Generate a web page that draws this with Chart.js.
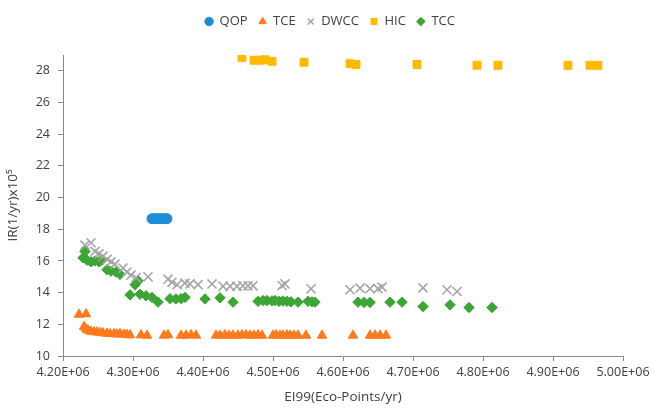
<!DOCTYPE html>
<html>
<head>
<meta charset="utf-8">
<script src="https://cdn.jsdelivr.net/npm/chart.js@4"></script>
<style>
  html, body { margin: 0; padding: 0; background: #fff; }
  #wrap { width: 654px; height: 409px; }
</style>
</head>
<body>
<div id="wrap"><canvas id="c" width="654" height="409"></canvas></div>
<script>
// EI99 (eco-points/yr) vs individual risk (1/yr x 1e5) for each design
const qopX = [4.3271e6, 4.3314e6, 4.3357e6, 4.3400e6, 4.3443e6, 4.3486e6];
const qopY = [18.67, 18.67, 18.67, 18.67, 18.67, 18.67];

const tceX = [4.2229e6, 4.2329e6,
  4.2300e6, 4.2329e6, 4.2357e6, 4.2400e6, 4.2443e6, 4.2486e6, 4.2529e6, 4.2571e6,
  4.2629e6, 4.2671e6, 4.2729e6, 4.2771e6, 4.2814e6, 4.2871e6, 4.2914e6, 4.2957e6,
  4.3114e6, 4.3200e6, 4.3443e6, 4.3500e6, 4.3686e6, 4.3757e6, 4.3829e6, 4.3900e6,
  4.4186e6, 4.4243e6, 4.4314e6, 4.4371e6, 4.4429e6, 4.4500e6, 4.4557e6, 4.4614e6,
  4.4671e6, 4.4729e6, 4.4786e6, 4.4843e6, 4.5000e6, 4.5043e6, 4.5100e6, 4.5143e6,
  4.5200e6, 4.5243e6, 4.5300e6, 4.5357e6, 4.5471e6, 4.5700e6, 4.6143e6, 4.6386e6,
  4.6457e6, 4.6529e6, 4.6614e6];
const tceY = [12.62, 12.65,
  11.85, 11.70, 11.62, 11.55, 11.52, 11.50, 11.47, 11.45,
  11.42, 11.40, 11.40, 11.37, 11.40, 11.36, 11.35, 11.32,
  11.32, 11.30, 11.30, 11.33, 11.30, 11.30, 11.33, 11.30,
  11.30, 11.30, 11.33, 11.30, 11.30, 11.30, 11.32, 11.33,
  11.30, 11.30, 11.33, 11.30, 11.30, 11.33, 11.30, 11.30,
  11.33, 11.30, 11.30, 11.30, 11.30, 11.30, 11.30, 11.30,
  11.30, 11.30, 11.30];

const dwccX = [4.2314e6, 4.2400e6, 4.2457e6, 4.2514e6, 4.2571e6, 4.2629e6, 4.2686e6,
  4.2743e6, 4.2857e6, 4.2914e6, 4.2971e6, 4.3043e6, 4.3214e6, 4.3500e6, 4.3557e6,
  4.3629e6, 4.3743e6, 4.3814e6, 4.3929e6, 4.4129e6, 4.4286e6, 4.4386e6, 4.4486e6,
  4.4571e6, 4.4643e6, 4.4714e6, 4.5129e6, 4.5171e6, 4.5543e6, 4.6100e6, 4.6243e6,
  4.6386e6, 4.6500e6, 4.6557e6, 4.7143e6, 4.7486e6, 4.7629e6];
const dwccY = [17.00, 17.15, 16.60, 16.45, 16.30, 16.10, 15.95,
  15.80, 15.55, 15.30, 15.10, 14.95, 15.00, 14.85, 14.65,
  14.50, 14.60, 14.55, 14.50, 14.55, 14.40, 14.40, 14.40,
  14.43, 14.43, 14.43, 14.45, 14.55, 14.24, 14.18, 14.28,
  14.25, 14.25, 14.35, 14.30, 14.18, 14.07];

const hicX = [4.4557e6, 4.4729e6, 4.4814e6, 4.4886e6, 4.4986e6, 4.5443e6, 4.6100e6,
  4.6186e6, 4.7057e6, 4.7914e6, 4.8214e6, 4.9214e6, 4.9529e6, 4.9643e6];
const hicY = [28.85, 28.67, 28.67, 28.70, 28.60, 28.54, 28.45,
  28.40, 28.40, 28.35, 28.35, 28.35, 28.35, 28.35];

const tccX = [4.2314e6, 4.2286e6, 4.2343e6, 4.2400e6, 4.2457e6, 4.2514e6, 4.2557e6,
  4.2629e6, 4.2686e6, 4.2757e6, 4.2814e6, 4.3029e6, 4.3071e6, 4.2957e6, 4.3100e6,
  4.3186e6, 4.3271e6, 4.3357e6, 4.3529e6, 4.3614e6, 4.3686e6, 4.3743e6, 4.4029e6,
  4.4243e6, 4.4429e6, 4.4786e6, 4.4857e6, 4.4914e6, 4.4986e6, 4.5029e6, 4.5086e6,
  4.5143e6, 4.5200e6, 4.5257e6, 4.5357e6, 4.5500e6, 4.5557e6, 4.5600e6, 4.6214e6,
  4.6300e6, 4.6386e6, 4.6671e6, 4.6843e6, 4.7143e6, 4.7529e6, 4.7800e6, 4.8129e6];
const tccY = [16.60, 16.20, 16.05, 15.95, 16.00, 15.95, 16.05,
  15.45, 15.35, 15.30, 15.15, 14.50, 14.75, 13.86, 13.90,
  13.80, 13.70, 13.40, 13.62, 13.60, 13.62, 13.70, 13.60,
  13.67, 13.40, 13.45, 13.50, 13.50, 13.48, 13.50, 13.45,
  13.47, 13.45, 13.42, 13.40, 13.45, 13.42, 13.40, 13.40,
  13.38, 13.38, 13.40, 13.40, 13.12, 13.23, 13.06, 13.06];

// x axis ticks every 0.1E+06 from 4.2E+06 to 5.0E+06, y axis every 2 from 10 to 28
const xTicks = [4.2e6, 4.3e6, 4.4e6, 4.5e6, 4.6e6, 4.7e6, 4.8e6, 4.9e6, 5.0e6];
const yTicks = [10, 12, 14, 16, 18, 20, 22, 24, 26, 28];

const pts = (xs, ys) => xs.map((x, i) => ({ x, y: ys[i] }));

const FONT = "'Open Sans', 'Noto Sans', sans-serif";
const AXIS = '#898989';
const TXT = '#404040';

// Legend block: fixed height above the plot, centred on the whole canvas
const legendBox = {
  id: 'legendBox',
  beforeInit(chart) {
    const fit = chart.legend.fit;
    chart.legend.fit = function () {
      fit.bind(chart.legend)();
      this.height = 51;
    };
  },
  afterLayout(chart) {
    chart.legend.left = 0;
    chart.legend.right = chart.width + 6;
  }
};

new Chart(document.getElementById('c'), {
  type: 'scatter',
  data: {
    datasets: [
      { label: 'QOP', data: pts(qopX, qopY), pointStyle: 'circle', pointRadius: 5,
        backgroundColor: '#1F8DD6', borderColor: '#1F8DD6', borderWidth: 1 },
      { label: 'TCE', data: pts(tceX, tceY), pointStyle: 'triangle', pointRadius: 5.5,
        backgroundColor: '#FF7A1C', borderColor: '#FF7A1C', borderWidth: 1 },
      { label: 'DWCC', data: pts(dwccX, dwccY), pointStyle: 'crossRot', pointRadius: 6.4,
        backgroundColor: '#A5A5A5', borderColor: '#A5A5A5', borderWidth: 1.6 },
      { label: 'HIC', data: pts(hicX, hicY), pointStyle: 'rect', pointRadius: 5.6,
        backgroundColor: '#FFBA00', borderColor: '#FFBA00', borderWidth: 1 },
      { label: 'TCC', data: pts(tccX, tccY), pointStyle: 'rectRot', pointRadius: 5.2,
        backgroundColor: '#3DA535', borderColor: '#3DA535', borderWidth: 1 }
    ]
  },
  options: {
    responsive: false,
    animation: false,
    layout: { padding: { left: 5, right: 31, top: 4, bottom: 4 } },
    plugins: {
      tooltip: { enabled: false },
      legend: {
        position: 'top',
        labels: {
          usePointStyle: true,
          boxWidth: 8,
          boxHeight: 6,
          padding: 11,
          color: TXT,
          font: { family: FONT, size: 13 }
        }
      }
    },
    scales: {
      x: {
        type: 'linear',
        min: 4.2e6,
        max: 5.0e6,
        afterBuildTicks(scale) { scale.ticks = xTicks.map(v => ({ value: v })); },
        afterFit(scale) { scale.height = 49; },
        ticks: {
          color: TXT,
          padding: 4,
          maxRotation: 0,
          font: { family: FONT, size: 12.5 },
          callback: v => (v / 1e6).toFixed(2) + 'E+06'
        },
        grid: { drawOnChartArea: false, drawTicks: true, tickLength: 5, color: AXIS },
        border: { display: true, color: AXIS, width: 1 },
        title: {
          display: true,
          text: 'EI99(Eco-Points/yr)',
          color: TXT,
          padding: { top: 2, bottom: 0 },
          font: { family: FONT, size: 13.5 }
        }
      },
      y: {
        type: 'linear',
        min: 10,
        max: 29,
        afterBuildTicks(scale) { scale.ticks = yTicks.map(v => ({ value: v })); },
        afterFit(scale) { scale.width = 58; },
        ticks: {
          color: TXT,
          padding: 8,
          font: { family: FONT, size: 12.5 }
        },
        grid: { drawOnChartArea: false, drawTicks: true, tickLength: 5, color: AXIS },
        border: { display: true, color: AXIS, width: 1 },
        title: {
          display: true,
          text: 'IR(1/yr)x10\u2075',
          color: TXT,
          padding: { top: 0, bottom: 4 },
          font: { family: FONT, size: 13.5 }
        }
      }
    }
  },
  plugins: [legendBox]
});
</script>
</body>
</html>
